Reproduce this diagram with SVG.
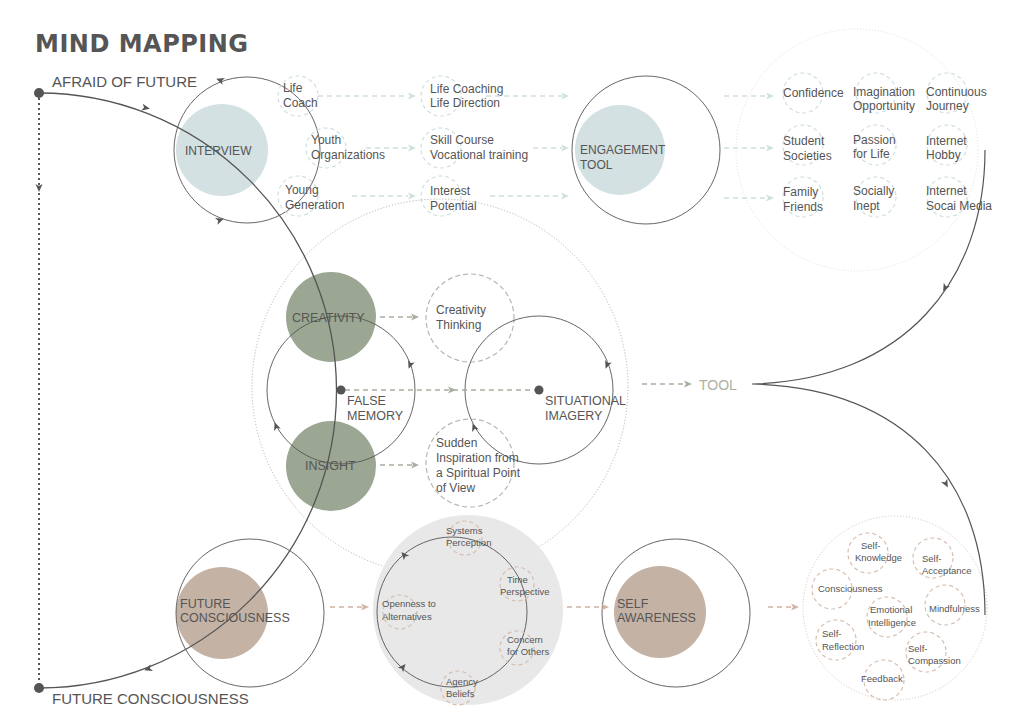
<svg xmlns="http://www.w3.org/2000/svg" width="1024" height="724" viewBox="0 0 1024 724">
<defs>
<style>
text{font-family:"Liberation Sans",Arial,sans-serif;fill:#555;font-size:12px}
.s{font-size:9.5px}
.hd{fill:#555;font-size:12.5px}
.ring{fill:none;stroke:#555;stroke-width:0.9}
.dt{fill:none;stroke:#cfe0de;stroke-width:1.2;stroke-dasharray:4 3}
.ds{fill:none;stroke:#b7b7b0;stroke-width:1.2;stroke-dasharray:5 3}
.db{fill:none;stroke:#d6bfb1;stroke-width:1.2;stroke-dasharray:4 3}
.at{stroke:#cfe0de;stroke-width:1.3;stroke-dasharray:5 4;fill:none}
.as{stroke:#a6ae9f;stroke-width:1.3;stroke-dasharray:5 4;fill:none}
.ab{stroke:#d2b4a2;stroke-width:1.5;stroke-dasharray:5 4;fill:none}
</style>
<path id="ah" d="M4,0 L-4,-3.5 L-2,0 L-4,3.5 Z"/>
</defs>

<text x="35" y="52" style="font-size:24px;font-weight:900;font-family:'DejaVu Sans',sans-serif;fill:#555;letter-spacing:0.5px">MIND MAPPING</text>
<text x="52" y="87" style="font-size:15px">AFRAID OF FUTURE</text>
<text x="52" y="704" style="font-size:15px">FUTURE CONSCIOUSNESS</text>

<g id="interview">
<circle cx="222" cy="150" r="46" fill="#d3e1e3"/>
<circle cx="247" cy="150" r="73" class="ring"/>
<use href="#ah" transform="translate(220,80) rotate(200)" fill="#555"/>
<use href="#ah" transform="translate(220,220) rotate(-20)" fill="#555"/>
<text x="185" y="155">INTERVIEW</text>
</g>
<g id="life-coach"><circle cx="298" cy="96" r="20" class="dt"/><text x="283" y="92">Life</text><text x="283" y="107">Coach</text></g>
<g id="youth"><circle cx="326" cy="148" r="20" class="dt"/><text x="311" y="144">Youth</text><text x="311" y="159">Organizations</text></g>
<g id="young"><circle cx="298" cy="196" r="20" class="dt"/><text x="285" y="194">Young</text><text x="285" y="209">Generation</text></g>
<g id="life-coaching"><circle cx="441" cy="96" r="20" class="dt"/><text x="430" y="93">Life Coaching</text><text x="430" y="107">Life Direction</text></g>
<g id="skill"><circle cx="441" cy="148" r="20" class="dt"/><text x="430" y="144">Skill Course</text><text x="430" y="159">Vocational training</text></g>
<g id="interest"><circle cx="441" cy="196" r="20" class="dt"/><text x="430" y="195">Interest</text><text x="430" y="210">Potential</text></g>

<g id="engagement">
<circle cx="620" cy="150" r="45" fill="#d3e1e3"/>
<circle cx="646" cy="150" r="74" class="ring"/>
<text x="580" y="154">ENGAGEMENT</text><text x="580" y="169">TOOL</text>
</g>

<g id="outcomes">
<circle cx="857" cy="150" r="121" fill="none" stroke="#d5e4e2" stroke-dasharray="1 2"/>
<g class="dt">
<circle cx="803" cy="93" r="20"/><circle cx="876" cy="93" r="20"/><circle cx="947" cy="93" r="20"/>
<circle cx="803" cy="145" r="20"/><circle cx="876" cy="145" r="20"/><circle cx="947" cy="145" r="20"/>
<circle cx="803" cy="197" r="20"/><circle cx="876" cy="197" r="20"/><circle cx="947" cy="197" r="20"/>
</g>
<text x="783" y="97">Confidence</text>
<text x="853" y="96">Imagination</text><text x="853" y="110">Opportunity</text>
<text x="926" y="96">Continuous</text><text x="926" y="110">Journey</text>
<text x="783" y="145">Student</text><text x="783" y="160">Societies</text>
<text x="853" y="144">Passion</text><text x="853" y="158">for Life</text>
<text x="926" y="145">Internet</text><text x="926" y="159">Hobby</text>
<text x="783" y="196">Family</text><text x="783" y="211">Friends</text>
<text x="853" y="195">Socially</text><text x="853" y="210">Inept</text>
<text x="926" y="195">Internet</text><text x="926" y="210">Socai Media</text>
</g>

<g id="tool"><text x="699" y="390" style="font-size:14px;fill:#aab0a4">TOOL</text></g>

<g id="middle-field"><circle cx="440" cy="387" r="188" fill="none" stroke="#aaa" stroke-dasharray="1 2"/></g>
<g id="creativity"><circle cx="331" cy="317" r="45" fill="#9ba792"/><text x="292" y="322" class="hd">CREATIVITY</text></g>
<g id="insight"><circle cx="331" cy="466" r="45" fill="#9ba792"/><text x="305" y="470" class="hd">INSIGHT</text></g>
<g id="false-memory">
<circle cx="341" cy="390" r="74" class="ring"/>
<use href="#ah" transform="translate(410,365) rotate(110)" fill="#555"/>
<use href="#ah" transform="translate(276,426) rotate(-110)" fill="#555"/>
<text x="347" y="405" class="hd">FALSE</text><text x="347" y="420" class="hd">MEMORY</text>
</g>
<g id="creativity-thinking"><circle cx="470" cy="318" r="44" class="ds"/><text x="436" y="314">Creativity</text><text x="436" y="329">Thinking</text></g>
<g id="sudden"><circle cx="470" cy="463" r="44" class="ds"/><text x="436" y="447">Sudden</text><text x="436" y="462">Inspiration from</text><text x="436" y="477">a Spiritual Point</text><text x="436" y="492">of View</text></g>
<g id="situational">
<circle cx="539" cy="390" r="74" class="ring"/>
<use href="#ah" transform="translate(607,365) rotate(110)" fill="#555"/>
<use href="#ah" transform="translate(474,427) rotate(-110)" fill="#555"/>
<text x="545" y="405" class="hd">SITUATIONAL</text><text x="545" y="420" class="hd">IMAGERY</text>
</g>

<g id="future-consciousness">
<circle cx="222" cy="613" r="46" fill="#c4b2a5"/>
<circle cx="250" cy="613" r="74" class="ring"/>
<text x="180" y="608" class="hd">FUTURE</text><text x="180" y="622" class="hd">CONSCIOUSNESS</text>
</g>

<g id="competences">
<circle cx="468" cy="610" r="95" fill="#e8e8e8"/>
<circle cx="452" cy="612" r="75" class="ring"/>
<use href="#ah" transform="translate(404,555) rotate(-130)" fill="#555"/>
<use href="#ah" transform="translate(403,667) rotate(-50)" fill="#555"/>
<g class="db"><circle cx="465" cy="538" r="17"/><circle cx="517" cy="584" r="17"/><circle cx="400" cy="612" r="17"/><circle cx="517" cy="648" r="17"/><circle cx="458" cy="688" r="17"/></g>
<text x="446" y="534" class="s">Systems</text><text x="446" y="546" class="s">Perception</text>
<text x="507" y="583" class="s">Time</text><text x="500" y="595" class="s">Perspective</text>
<text x="382" y="607" class="s">Openness to</text><text x="382" y="620" class="s">Alternatives</text>
<text x="507" y="643" class="s">Concern</text><text x="507" y="655" class="s">for Others</text>
<text x="446" y="685" class="s">Agency</text><text x="446" y="697" class="s">Beliefs</text>
</g>

<g id="self-awareness">
<circle cx="660" cy="612" r="46" fill="#c4b2a5"/>
<circle cx="676" cy="613" r="74" class="ring"/>
<text x="617" y="608" class="hd">SELF</text><text x="617" y="622" class="hd">AWARENESS</text>
</g>

<g id="self-field">
<circle cx="895" cy="608" r="92" fill="none" stroke="#d6bfb1" stroke-dasharray="1 2"/>
<g class="db">
<circle cx="868" cy="553" r="20"/><circle cx="933" cy="558" r="20"/><circle cx="832" cy="589" r="20"/><circle cx="945" cy="605" r="20"/>
<circle cx="887" cy="617" r="20"/><circle cx="836" cy="640" r="20"/><circle cx="926" cy="652" r="20"/><circle cx="884" cy="680" r="20"/>
</g>
<text x="861" y="549" class="s">Self-</text><text x="855" y="561" class="s">Knowledge</text>
<text x="922" y="562" class="s">Self-</text><text x="922" y="574" class="s">Acceptance</text>
<text x="818" y="592" class="s">Consciousness</text>
<text x="929" y="612" class="s">Mindfulness</text>
<text x="870" y="613" class="s">Emotional</text><text x="868" y="626" class="s">Intelligence</text>
<text x="822" y="637" class="s">Self-</text><text x="822" y="650" class="s">Reflection</text>
<text x="908" y="652" class="s">Self-</text><text x="908" y="664" class="s">Compassion</text>
<text x="861" y="682" class="s">Feedback</text>
</g>

<g id="connectors">
<line x1="39" y1="93" x2="39" y2="688" stroke="#555" stroke-width="2" stroke-dasharray="2 3"/>
<use href="#ah" transform="translate(39,188) rotate(90)" fill="#555"/>
<circle cx="39" cy="93" r="5" fill="#555"/>
<circle cx="39" cy="688" r="5" fill="#555"/>
<path d="M39,93 A297,297 0 1 1 39,688" fill="none" stroke="#555" stroke-width="1.3"/>
<use href="#ah" transform="translate(146,108) rotate(12)" fill="#555"/>
<use href="#ah" transform="translate(148,669) rotate(160)" fill="#555"/>
<path d="M985,150 C985,280 905,380 752,384 C905,388 985,480 985,615" fill="none" stroke="#555" stroke-width="1.2"/>
<use href="#ah" transform="translate(945,288) rotate(118)" fill="#555"/>
<use href="#ah" transform="translate(946,484) rotate(62)" fill="#555"/>
<g class="at">
<line x1="318" y1="96" x2="408" y2="96"/><line x1="366" y1="148" x2="408" y2="148"/><line x1="352" y1="196" x2="408" y2="196"/>
<line x1="486" y1="96" x2="562" y2="96"/><line x1="533" y1="148" x2="562" y2="148"/><line x1="490" y1="196" x2="562" y2="196"/>
<line x1="724" y1="96" x2="766" y2="96"/><line x1="724" y1="148" x2="766" y2="148"/><line x1="724" y1="198" x2="766" y2="198"/>
</g>
<g fill="#cfe0de">
<use href="#ah" transform="translate(412,96)"/><use href="#ah" transform="translate(412,148)"/><use href="#ah" transform="translate(412,196)"/>
<use href="#ah" transform="translate(565,96)"/><use href="#ah" transform="translate(565,148)"/><use href="#ah" transform="translate(565,196)"/>
<use href="#ah" transform="translate(770,96)"/><use href="#ah" transform="translate(770,148)"/><use href="#ah" transform="translate(770,198)"/>
</g>
<g class="as">
<line x1="380" y1="317" x2="412" y2="317"/><line x1="380" y1="465" x2="412" y2="465"/>
<line x1="345" y1="390" x2="535" y2="390"/><line x1="642" y1="384" x2="686" y2="384"/>
</g>
<g fill="#a6ae9f">
<use href="#ah" transform="translate(415,317)"/><use href="#ah" transform="translate(415,465)"/>
<use href="#ah" transform="translate(452,390)"/><use href="#ah" transform="translate(688,384)"/>
</g>
<g class="ab">
<line x1="330" y1="607" x2="362" y2="607"/><line x1="567" y1="607" x2="602" y2="607"/><line x1="768" y1="607" x2="792" y2="607"/>
</g>
<g fill="#d2b4a2">
<use href="#ah" transform="translate(365,607)"/><use href="#ah" transform="translate(605,607)"/><use href="#ah" transform="translate(795,607)"/>
</g>
<circle cx="341" cy="390" r="4.5" fill="#555"/>
<circle cx="539" cy="390" r="4.5" fill="#555"/>
</g>
</svg>
